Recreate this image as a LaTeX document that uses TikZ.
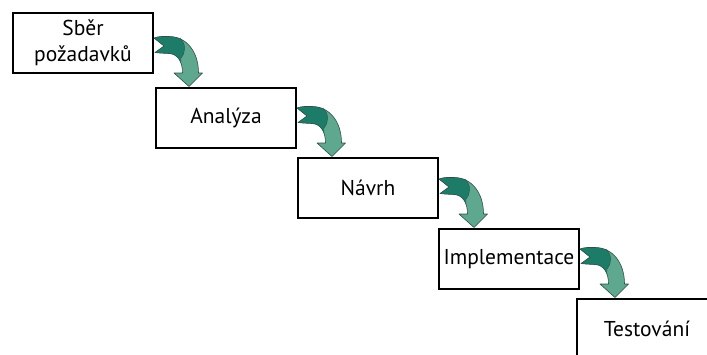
\documentclass[tikz,border=0pt]{standalone}
\usepackage{fontspec}
\setmainfont{PT Sans}
\definecolor{tealdark}{RGB}{28,124,104}
\definecolor{teallight}{RGB}{94,168,143}
\definecolor{tealedge}{RGB}{50,80,72}
% outline of the bent arrow, origin at (right edge of upper box, top of lower box)
\newcommand\bendoutline{(1,-50) .. controls (6,-52) and (11,-51.5) .. (16,-51.5)
  .. controls (33,-51.5) and (45.5,-37) .. (45.5,-15) -- (49.5,-15) -- (36,-1.5)
  -- (21,-15) -- (29.5,-15) .. controls (29.5,-26) and (25,-34) .. (16,-34.5)
  .. controls (10,-34.8) and (5,-35) .. (2,-35.5) -- (11,-42) -- cycle}
\tikzset{
  stage/.style={draw=black, line width=2pt, fill=white, minimum width=140pt,
    minimum height=60pt, inner sep=0pt, outer sep=0pt, anchor=north west,
    align=center, font=\fontsize{21.5}{26}\selectfont},
  arrowedge/.style={draw=tealedge, line width=0.6pt, line join=round},
  bendarrow/.pic={
    \fill[teallight] \bendoutline;
    \begin{scope}
      \clip \bendoutline;
      \fill[tealdark] (-5,-60) -- (27,-60) -- (27,-50)
        .. controls (33,-44) and (33,-36) .. (28,-30) -- (28,-20) -- (-5,-20) -- cycle;
    \end{scope}
    \draw[arrowedge, line width=0.4pt] (27,-50) .. controls (33,-44) and (33,-36) .. (28,-30);
    \draw[arrowedge] \bendoutline;
  }
}
\begin{document}
\begin{tikzpicture}[x=1pt,y=-1pt]
  \useasboundingbox (0,0) rectangle (707,354);
  \clip (0,0) rectangle (707,354);
  \fill[white] (0,0) rectangle (707,354);

  \node[stage] (req)  at (13,13)   {Sběr\\požadavků};
  \node[stage] (ana)  at (156,88)  {Analýza};
  \node[stage] (des)  at (298,158) {Návrh};
  \node[stage] (impl) at (439,229) {Implementace};
  \node[stage] (test) at (577,299) {Testování};

  \pic at (req.east |- ana.north)  {bendarrow};
  \pic at (ana.east |- des.north)  {bendarrow};
  \pic at (des.east |- impl.north) {bendarrow};
  \pic at (impl.east |- test.north) {bendarrow};
\end{tikzpicture}
\end{document}
